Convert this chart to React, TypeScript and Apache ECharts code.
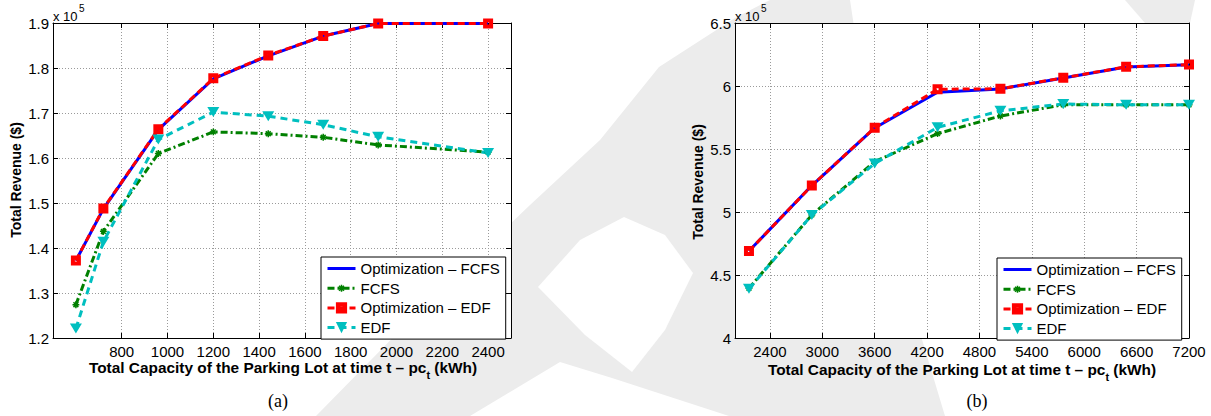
import React, { useEffect, useRef } from 'react';
import * as echarts from 'echarts';

const SERIES_NAMES = ['Optimization – FCFS', 'FCFS', 'Optimization – EDF', 'EDF'];

// ---- chart (a) ----
const capA = [600, 720, 960, 1200, 1440, 1680, 1920, 2400];
const optFcfsA = [1.372, 1.487, 1.663, 1.776, 1.827, 1.871, 1.899, 1.899];
const fcfsA = [1.274, 1.437, 1.61, 1.658, 1.654, 1.646, 1.629, 1.613];
const optEdfA = [1.372, 1.488, 1.664, 1.777, 1.828, 1.871, 1.899, 1.899];
const edfA = [1.221, 1.414, 1.641, 1.702, 1.693, 1.674, 1.647, 1.611];
const xTicksA = [800, 1000, 1200, 1400, 1600, 1800, 2000, 2200, 2400];

// ---- chart (b) ----
const capB = [2160, 2880, 3600, 4320, 5040, 5760, 6480, 7200];
const optFcfsB = [4.69, 5.21, 5.667, 5.95, 5.977, 6.064, 6.151, 6.168];
const fcfsB = [4.395, 4.977, 5.4, 5.622, 5.762, 5.851, 5.851, 5.851];
const optEdfB = [4.69, 5.21, 5.669, 5.974, 5.978, 6.065, 6.152, 6.17];
const edfB = [4.39, 4.976, 5.385, 5.672, 5.803, 5.857, 5.851, 5.851];
const xTicksB = [2400, 3000, 3600, 4200, 4800, 5400, 6000, 6600, 7200];

const FONT = '"Liberation Sans", Arial, Helvetica, sans-serif';
const SERIF = '"Liberation Serif", "Times New Roman", serif';
const GRID_LINE = { color: '#9a9a9a', width: 1, type: [1, 2] };
const WM = '#ececec';

const ASTERISK =
  'path://M-8,-8 M8,8 M-1.1,-5 L1.1,-5 L1.1,5 L-1.1,5 Z M-5,-1.1 L5,-1.1 L5,1.1 L-5,1.1 Z ' +
  'M-4.3,-2.75 L-2.75,-4.3 L4.3,2.75 L2.75,4.3 Z M-2.75,4.3 L-4.3,2.75 L2.75,-4.3 L4.3,-2.75 Z';
const SQUARE = 'path://M0,0 H10 V10 H0 Z M4,4 V6 H6 V4 Z';

const pairs = (xs: number[], ys: number[]) => xs.map((x, i) => [x, ys[i]]);

function seriesFor(xi: number, yi: number, xs: number[], vals: number[][]) {
  return [
    {
      name: SERIES_NAMES[0], type: 'line', xAxisIndex: xi, yAxisIndex: yi, clip: false,
      data: pairs(xs, vals[0]), symbol: 'none',
      itemStyle: { color: '#0000ff' },
      lineStyle: { color: '#0000ff', width: 3 },
    },
    {
      name: SERIES_NAMES[1], type: 'line', xAxisIndex: xi, yAxisIndex: yi, clip: false,
      data: pairs(xs, vals[1]), symbol: ASTERISK, symbolSize: 11,
      itemStyle: { color: '#008000' },
      lineStyle: { color: '#008000', width: 3, type: [7, 3, 2, 3] },
    },
    {
      name: SERIES_NAMES[2], type: 'line', xAxisIndex: xi, yAxisIndex: yi, clip: false,
      data: pairs(xs, vals[2]), symbol: SQUARE, symbolSize: 10,
      itemStyle: { color: '#ff0000' },
      lineStyle: { color: '#ff0000', width: 3, type: [7, 4] },
    },
    {
      name: SERIES_NAMES[3], type: 'line', xAxisIndex: xi, yAxisIndex: yi, clip: false,
      data: pairs(xs, vals[3]), symbol: 'triangle', symbolRotate: 180, symbolSize: [12, 10],
      itemStyle: { color: '#00bfbf' },
      lineStyle: { color: '#00bfbf', width: 3, type: [7, 5] },
    },
  ];
}

function xAxes(gridIndex: number, min: number, max: number, ticks: number[], fontSize: number) {
  const line = { show: true, onZero: false, lineStyle: { color: '#000', width: 1 } };
  return [
    {
      type: 'value', gridIndex, position: 'bottom', min, max, axisLine: line,
      axisTick: { show: true, inside: true, length: 5, customValues: ticks, lineStyle: { color: '#000' } },
      axisLabel: {
        show: true, customValues: ticks, color: '#000', fontSize, fontFamily: FONT, margin: 6,
        formatter: (v: number) => String(v),
      },
      splitLine: { show: true, lineStyle: GRID_LINE },
    },
    {
      type: 'value', gridIndex, position: 'top', min, max, axisLine: line,
      axisTick: { show: true, inside: true, length: 5, customValues: ticks, lineStyle: { color: '#000' } },
      axisLabel: { show: false }, splitLine: { show: false },
    },
  ];
}

function yAxes(gridIndex: number, min: number, max: number, interval: number, fontSize: number, margin: number) {
  const line = { show: true, onZero: false, lineStyle: { color: '#000', width: 1 } };
  return [
    {
      type: 'value', gridIndex, position: 'left', min, max, interval, axisLine: line,
      axisTick: { show: true, inside: true, length: 5, lineStyle: { color: '#000' } },
      axisLabel: {
        show: true, color: '#000', fontSize, fontFamily: FONT, margin,
        formatter: (v: number) => String(Math.round(v * 10) / 10),
      },
      splitLine: { show: true, lineStyle: GRID_LINE },
    },
    {
      type: 'value', gridIndex, position: 'right', min, max, interval, axisLine: line,
      axisTick: { show: true, inside: true, length: 5, lineStyle: { color: '#000' } },
      axisLabel: { show: false }, splitLine: { show: false },
    },
  ];
}

function legendFor(left: number, top: number) {
  return {
    left, top, orient: 'vertical', selectedMode: false,
    itemWidth: 28, itemHeight: 14, itemGap: 4.7, padding: [4, 6, 4, 5],
    borderColor: '#000', borderWidth: 1, borderRadius: 0, backgroundColor: '#fff',
    textStyle: { fontSize: 15, fontFamily: FONT, color: '#000', lineHeight: 14 },
    lineStyle: { width: 3 },
    data: [
      { name: SERIES_NAMES[0], itemStyle: { opacity: 0 } },
      SERIES_NAMES[1], SERIES_NAMES[2], SERIES_NAMES[3],
    ],
  };
}

function xName(x: number, y: number) {
  return {
    type: 'text', z: 10, silent: true, x, y,
    style: {
      text: '{m|Total Capacity of the Parking Lot at time t – pc}{s|t}{m| (kWh)}',
      align: 'center', verticalAlign: 'middle', fill: '#000',
      rich: {
        m: { fontSize: 15.4, fontWeight: 'bold', fontFamily: FONT, fill: '#000', verticalAlign: 'bottom', padding: [0, 0, 6, 0] },
        s: { fontSize: 11, fontWeight: 'bold', fontFamily: FONT, fill: '#000', verticalAlign: 'bottom' },
      },
    },
  };
}

function txt(text: string, x: number, y: number, font: string, align = 'left', rotation = 0) {
  return {
    type: 'text', z: 10, silent: true, x, y, rotation,
    style: { text, font, fill: '#000', align, verticalAlign: 'middle' },
  };
}

const GRID_A = { left: 53, top: 23, width: 458, height: 315 };
const GRID_B = { left: 735, top: 23, width: 454, height: 315 };

const option = {
  animation: false,
  backgroundColor: '#fff',
  grid: [
    { ...GRID_A, show: false },
    { ...GRID_B, show: false },
  ],
  xAxis: [...xAxes(0, 500, 2500, xTicksA, 15), ...xAxes(1, 2000, 7200, xTicksB, 15)],
  yAxis: [...yAxes(0, 1.2, 1.9, 0.1, 15, 4), ...yAxes(1, 4, 6.5, 0.5, 15, 4)],
  legend: [legendFor(321, 257), legendFor(997, 258)],
  series: [
    ...seriesFor(0, 0, capA, [optFcfsA, fcfsA, optEdfA, edfA]),
    ...seriesFor(2, 2, capB, [optFcfsB, fcfsB, optEdfB, edfB]),
  ],
  graphic: [
    // faint page watermark (hidden behind the white plot areas)
    {
      type: 'polygon', z: -10, silent: true,
      shape: { points: [[316, 416], [420, 310], [530, 205], [600, 140], [659, 67], [735, 18], [770, 0], [850, 0], [880, 200], [945, 416]] },
      style: { fill: WM },
    },
    {
      type: 'polygon', z: -9, silent: true,
      shape: { points: [[538, 287], [580, 240], [624, 217], [665, 235], [693, 273], [665, 330], [632, 372], [585, 335]] },
      style: { fill: '#fff' },
    },
    {
      type: 'polygon', z: -9, silent: true,
      shape: { points: [[470, 416], [560, 362], [612, 378], [729, 416]] },
      style: { fill: '#fff' },
    },
    {
      type: 'polygon', z: -10, silent: true,
      shape: { points: [[1125, 0], [1195, 0], [1190, 23], [1145, 23]] },
      style: { fill: WM },
    },
    { type: 'rect', z: -8, silent: true, shape: { x: GRID_A.left, y: GRID_A.top, width: GRID_A.width, height: GRID_A.height }, style: { fill: '#fff' } },
    { type: 'rect', z: -8, silent: true, shape: { x: GRID_B.left, y: GRID_B.top, width: GRID_B.width, height: GRID_B.height }, style: { fill: '#fff' } },
    // texts
    txt('Total Revenue ($)', 16, 180, `bold 14px ${FONT}`, 'center', Math.PI / 2),
    txt('Total Revenue ($)', 698, 182, `bold 14px ${FONT}`, 'center', Math.PI / 2),
    xName(283, 370),
    xName(962, 372),
    txt('x 10', 53, 16, `13px ${FONT}`),
    txt('5', 79, 8, `10px ${FONT}`),
    txt('x 10', 735, 16, `13px ${FONT}`),
    txt('5', 761, 8, `10px ${FONT}`),
    txt('(a)', 278, 401, `18px ${SERIF}`, 'center'),
    txt('(b)', 977, 401, `18px ${SERIF}`, 'center'),
  ],
};

export default function App() {
  const ref = useRef<HTMLDivElement>(null);
  useEffect(() => {
    if (!ref.current) return;
    const chart = echarts.init(ref.current, null, { renderer: 'svg', width: 1211, height: 416 });
    chart.setOption(option as any);
    return () => chart.dispose();
  }, []);
  return (
    <div
      ref={ref}
      style={{ position: 'fixed', left: 0, top: 0, width: 1211, height: 416, background: '#fff' }}
    />
  );
}
